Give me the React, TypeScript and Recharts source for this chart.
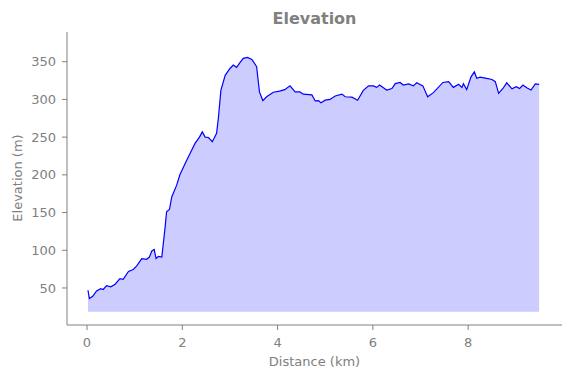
import { ComposedChart, Area, XAxis, YAxis } from 'recharts';

// distance along the route, km
const distanceKm = [
  0.02, 0.05, 0.12, 0.2, 0.29, 0.34, 0.41, 0.5, 0.59, 0.69, 0.76, 0.87, 0.97, 1.04, 1.15, 1.25,
  1.31, 1.36, 1.41, 1.45, 1.5, 1.57, 1.64, 1.67, 1.73, 1.78, 1.88, 1.95, 2.06, 2.16, 2.27, 2.36,
  2.42, 2.48, 2.55, 2.63, 2.72, 2.76, 2.81, 2.9, 3.0, 3.07, 3.14, 3.21, 3.28, 3.37, 3.46, 3.56,
  3.62, 3.69, 3.77, 3.91, 4.04, 4.15, 4.26, 4.37, 4.47, 4.54, 4.72, 4.79, 4.86, 4.91, 5.0, 5.1,
  5.21, 5.35, 5.42, 5.56, 5.68, 5.8, 5.91, 6.01, 6.08, 6.14, 6.29, 6.4, 6.47, 6.57, 6.64, 6.75,
  6.85, 6.92, 7.05, 7.15, 7.27, 7.47, 7.59, 7.69, 7.8, 7.87, 7.9, 7.97, 8.06, 8.13, 8.18, 8.25,
  8.39, 8.5, 8.57, 8.64, 8.73, 8.81, 8.92, 9.01, 9.08, 9.15, 9.23, 9.32, 9.41, 9.49,
];

// elevation, m
const elevationM = [
  47, 36, 39, 46, 49, 48, 53, 51.5, 55, 62.5, 61.5, 72, 74.5, 79, 89, 88,
  91, 99, 101, 89, 92, 91, 131, 151, 154, 171, 186, 200, 215, 228, 242, 250,
  257, 250, 249.5, 244, 255, 277, 312, 332, 341, 345.5, 342.5, 348.7, 354.5, 355.8, 353, 343.5,
  310, 298.5, 303.5, 309.5, 311, 313, 318, 310, 310, 307, 306, 298, 298.5, 295.5, 299, 300,
  304.5, 307, 303.5, 303, 299, 312, 318, 318, 316, 319, 312.5, 314.5, 321, 322.5, 319, 320.5,
  318, 322, 318, 303.5, 309, 322.5, 323.5, 316, 320, 316, 321, 313, 330, 336.5, 328, 329.5,
  328, 326.5, 323.5, 308, 314.5, 322, 314, 317, 314.5, 319, 315.5, 312.5, 320.5, 320,
];

const xTicks = [0, 2, 4, 6, 8];
const yTicks = [50, 100, 150, 200, 250, 300, 350];

const data = distanceKm.map((d, i) => ({ d, elev: elevationM[i] }));

const font = '"DejaVu Sans", sans-serif';
const grey = '#808080';

export default function App() {
  return (
    <div style={{ position: 'absolute', left: 0, top: 0, width: 571, height: 378, background: '#fff', fontFamily: font }}>
      <div style={{ position: 'absolute', left: 0, width: 629, top: 9, textAlign: 'center', fontWeight: 'bold', fontSize: 16, color: grey }}>
        Elevation
      </div>
      <ComposedChart width={571} height={378} data={data} margin={{ top: 32, right: 9, bottom: 23, left: 7 }}>
        <XAxis
          dataKey="d"
          type="number"
          domain={[-0.42, 9.97]}
          allowDataOverflow
          ticks={xTicks}
          height={30}
          stroke={grey}
          tickSize={5}
          tickMargin={8}
          tick={{ fill: grey, fontSize: 13, fontFamily: font }}
        />
        <YAxis
          type="number"
          domain={[0.9, 389.4]}
          allowDataOverflow
          ticks={yTicks}
          width={60}
          stroke={grey}
          tickSize={5}
          tickMargin={6}
          tick={{ fill: grey, fontSize: 13, fontFamily: font }}
        />
        <Area
          dataKey="elev"
          type="linear"
          baseValue={18.6}
          stroke="#0000ff"
          strokeWidth={1.2}
          fill="#ccccff"
          fillOpacity={1}
          isAnimationActive={false}
        />
      </ComposedChart>
      <div style={{ position: 'absolute', left: 0, width: 629, top: 354, textAlign: 'center', fontSize: 13, color: grey }}>
        Distance (km)
      </div>
      <div
        style={{
          position: 'absolute',
          left: 17,
          top: 178,
          transform: 'translate(-50%, -50%) rotate(-90deg)',
          whiteSpace: 'nowrap',
          fontSize: 13,
          color: grey,
        }}
      >
        Elevation (m)
      </div>
    </div>
  );
}
